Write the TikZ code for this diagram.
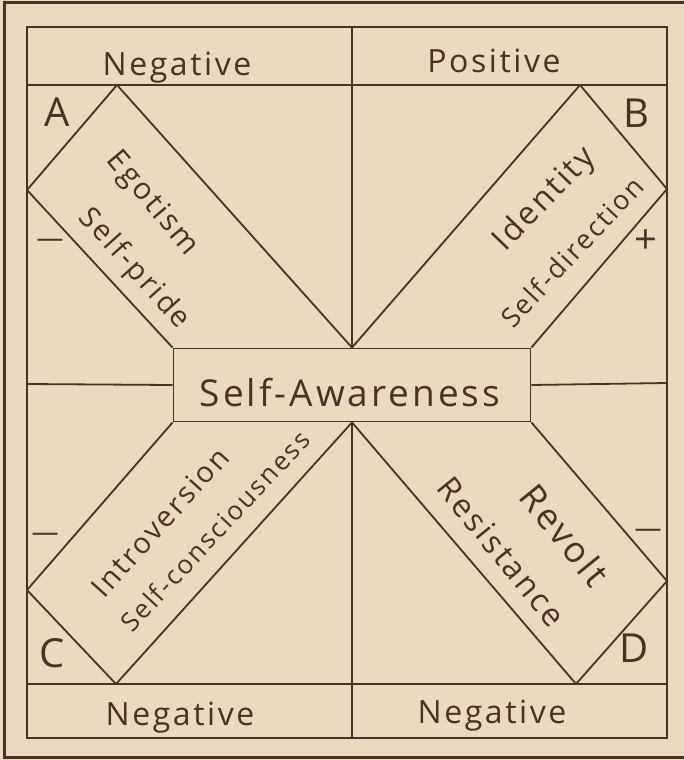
\documentclass[tikz,border=0pt]{standalone}
\usepackage{fontspec}
\newfontfamily\handfont[LetterSpace=8]{Open Sans}
\usetikzlibrary{positioning}
\definecolor{paper}{RGB}{232,219,191}
\definecolor{ink}{RGB}{72,52,38}
\tikzset{
  frameline/.style={draw=ink, line width=1.8pt},
  outerline/.style={draw=ink, line width=3pt},
  header/.style={anchor=base, text=ink, inner sep=0pt,
    font=\handfont\fontsize{32}{36}\selectfont},
  cornerlabel/.style={text=ink, inner sep=0pt,
    font=\handfont\fontsize{40}{44}\selectfont},
  signlabel/.style={text=ink, inner sep=0pt,
    font=\handfont\fontsize{40}{44}\selectfont},
  dashlabel/.style={text=ink, inner sep=0pt,
    font=\fontspec{Open Sans}\fontsize{27}{30}\selectfont},
  trait/.style={text=ink, inner sep=0pt},
  awarebox/.style={rectangle, draw=ink, line width=1.8pt, inner sep=0pt,
    minimum width=357pt, minimum height=73pt},
}

\begin{document}
\begin{tikzpicture}[x=1pt, y=-1pt]
  \useasboundingbox (0,0) rectangle (684,760);
  \fill[paper] (0,0) rectangle (684,760);

  % Frames
  \draw[outerline] (4,3) rectangle (690,757);
  \draw[frameline] (27,27) rectangle (667,738);
  \draw[frameline] (27,85) -- (667,85);
  \draw[frameline] (27,684) -- (667,684);

  % Centre box
  \node[awarebox] (box) at (352,385) {};
  \node[header, font=\handfont\fontsize{37}{40}\selectfont] (aware) at (350,406) {Self-Awareness};

  % Corner points of the four bands
  \coordinate (a1) at (117,85);
  \coordinate (a2) at (27,190);
  \coordinate (b1) at (580,85);
  \coordinate (b2) at (667,189);
  \coordinate (c1) at (27,590);
  \coordinate (c2) at (116,684);
  \coordinate (d1) at (667,581);
  \coordinate (d2) at (576,684);
  \coordinate (topmid) at (352,27);
  \coordinate (botmid) at (352,738);
  \coordinate (leftmid) at (27,384);
  \coordinate (rightmid) at (667,383);

  % Band A
  \draw[frameline] (a1) -- (a2);
  \draw[frameline] (a1) -- (box.north);
  \draw[frameline] (a2) -- (box.north west);
  % Band B
  \draw[frameline] (b1) -- (b2);
  \draw[frameline] (b1) -- (box.north);
  \draw[frameline] (b2) -- (box.north east);
  % Band C
  \draw[frameline] (c1) -- (c2);
  \draw[frameline] (c1) -- (box.south west);
  \draw[frameline] (c2) -- (box.south);
  % Band D
  \draw[frameline] (d1) -- (d2);
  \draw[frameline] (d1) -- (box.south east);
  \draw[frameline] (d2) -- (box.south);

  % Axes
  \draw[frameline] (topmid) -- (box.north);
  \draw[frameline] (box.south) -- (botmid);
  \draw[frameline] (leftmid) -- (box.west);
  \draw[frameline] (box.east) -- (rightmid);

  % Headers
  \node[header] (negtl) at (177,75) {Negative};
  \node[header] (postr) at (494,72) {Positive};
  \node[header] (negbl) at (180,725) {Negative};
  \node[header] (negbr) at (492,723) {Negative};

  % Corner letters
  \node[cornerlabel] (la) at (57,112) {A};
  \node[cornerlabel] (lb) at (636,113) {B};
  \node[cornerlabel] (lc) at (52,653) {C};
  \node[cornerlabel] (ld) at (634,648) {D};

  % Signs
  \node[dashlabel] (sa) at (50,243) {—};
  \node[signlabel] (sb) at (646,242) {+};
  \node[dashlabel] (sc) at (45,537) {—};
  \node[dashlabel] (sd) at (648,533) {—};

  % Band texts
  \node[trait, rotate=-50, font=\handfont\fontsize{30}{34}\selectfont] (ego) at (152,204) {Egotism};
  \node[trait, rotate=-48, font=\handfont\fontsize{29}{34}\selectfont] (pride) at (134,269) {Self-pride};
  \node[trait, rotate=46, font=\handfont\fontsize{32}{34}\selectfont] (ident) at (545,200) {Identity};
  \node[trait, rotate=47, font=\handfont\fontsize{27}{34}\selectfont] (direc) at (572,252) {Self-direction};
  \node[trait, rotate=48, font=\handfont\fontsize{29}{34}\selectfont] (intro) at (160,522) {Introversion};
  \node[trait, rotate=47, font=\handfont\fontsize{26}{34}\selectfont] (consc) at (215,531) {Self-consciousness};
  \node[trait, rotate=-51, font=\handfont\fontsize{36}{34}\selectfont] (revolt) at (565,535) {Revolt};
  \node[trait, rotate=-51, font=\handfont\fontsize{32}{34}\selectfont] (resist) at (502,552) {Resistance};
\end{tikzpicture}
\end{document}
